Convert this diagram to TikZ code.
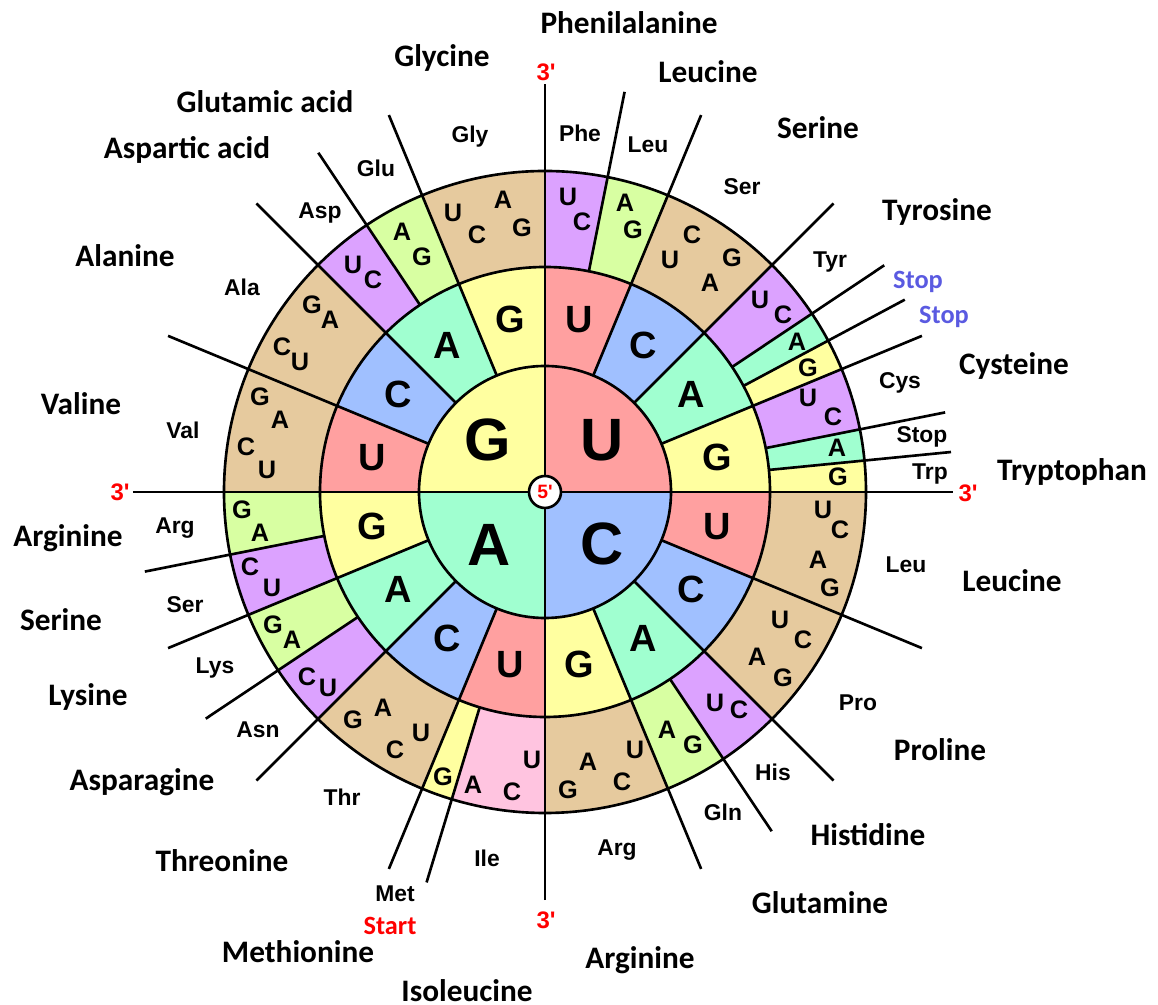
\documentclass[tikz,border=0pt]{standalone}
\usepackage{fontspec}
\setmainfont{Liberation Sans}
\newfontfamily\calibfont{Carlito}
\definecolor{baseU}{RGB}{255,160,160}
\definecolor{baseC}{RGB}{160,192,255}
\definecolor{baseA}{RGB}{160,255,208}
\definecolor{baseG}{RGB}{255,255,160}
\definecolor{fourfold}{RGB}{230,202,158}
\definecolor{pairUC}{RGB}{220,162,255}
\definecolor{pairAG}{RGB}{216,255,162}
\definecolor{ilepink}{RGB}{255,196,224}
\definecolor{stopblue}{RGB}{90,90,225}
\begin{document}
\begin{tikzpicture}[
  line width=0.75pt,
  bigname/.style={font=\calibfont\bfseries\fontsize{8.9}{10}\selectfont},
  shortname/.style={font=\bfseries\fontsize{6.5}{7}\selectfont},
  firstbase/.style={font=\bfseries\fontsize{17}{18}\selectfont},
  secondbase/.style={font=\bfseries\fontsize{10.8}{12}\selectfont},
  thirdbase/.style={font=\bfseries\fontsize{7.2}{8}\selectfont},
  endmark/.style={text=red, font=\bfseries\fontsize{6.8}{7}\selectfont},
  stopname/.style={text=stopblue, font=\calibfont\bfseries\fontsize{7.5}{8}\selectfont}]
\useasboundingbox (-5.45,-5.13) rectangle (6.13,4.92);
% first base
\fill[baseU] (0,0) -- (90:1.26) arc[start angle=90, end angle=0, radius=1.26] -- cycle;
\fill[baseC] (0,0) -- (0:1.26) arc[start angle=0, end angle=-90, radius=1.26] -- cycle;
\fill[baseA] (0,0) -- (-90:1.26) arc[start angle=-90, end angle=-180, radius=1.26] -- cycle;
\fill[baseG] (0,0) -- (180:1.26) arc[start angle=180, end angle=90, radius=1.26] -- cycle;
% second base
\foreach \c/\l [count=\k from 0] in {baseU/U,baseC/C,baseA/A,baseG/G,baseU/U,baseC/C,baseA/A,baseG/G,
  baseU/U,baseC/C,baseA/A,baseG/G,baseU/U,baseC/C,baseA/A,baseG/G}{
  \pgfmathsetmacro\a{90-22.5*\k}
  \pgfmathsetmacro\b{\a-22.5}
  \pgfmathsetmacro\m{\a-11.25}
  \fill[\c] (\a:1.26) arc[start angle=\a, end angle=\b, radius=1.26] -- (\b:2.25)
    arc[start angle=\b, end angle=\a, radius=2.25] -- cycle;
  \node[secondbase] (second\k) at (\m:1.76) {\l};
}
% third base
\foreach \a/\b/\c in {90/78.75/pairUC, 78.75/67.5/pairAG, 67.5/45/fourfold, 45/33.75/pairUC,
  33.75/28.125/baseA, 28.125/22.5/baseG, 22.5/11.25/pairUC, 11.25/5.625/baseA, 5.625/0/baseG,
  0/-45/fourfold, -45/-56.25/pairUC, -56.25/-67.5/pairAG, -67.5/-90/fourfold,
  -90/-106.875/ilepink, -106.875/-112.5/baseG, -112.5/-135/fourfold, -135/-146.25/pairUC,
  -146.25/-157.5/pairAG, -157.5/-168.75/pairUC, -168.75/-180/pairAG, -180/-225/fourfold,
  -225/-236.25/pairUC, -236.25/-247.5/pairAG, -247.5/-270/fourfold}
  \fill[\c] (\a:2.25) arc[start angle=\a, end angle=\b, radius=2.25] -- (\b:3.21)
    arc[start angle=\b, end angle=\a, radius=3.21] -- cycle;
% dividers
\draw (0,-4.08) -- (0,4.08);
\draw (-4.12,0) -- (4.08,0);
\foreach \a in {67.5,45,22.5,-22.5,-45,-67.5,-112.5,-135,-157.5,157.5,135,112.5}
  \draw (\a:1.26) -- (\a:4.08);
\foreach \a in {78.75,33.75,28.125,11.25,5.625,-56.25,-106.875,-146.25,-168.75,123.75}
  \draw (\a:2.25) -- (\a:4.08);
\draw (0,0) circle (1.26) circle (2.25) circle (3.21);
\node[draw, circle, fill=white, inner sep=0pt, minimum size=0.32cm, text=red,
  font=\bfseries\fontsize{5.5}{6}\selectfont] (five) at (0,0) {5\textquotesingle};
\node[firstbase] (firstU) at (0.57,0.52) {U};
\node[firstbase] (firstC) at (0.57,-0.52) {C};
\node[firstbase] (firstA) at (-0.56,-0.53) {A};
\node[firstbase] (firstG) at (-0.57,0.52) {G};
\foreach \x/\y/\l [count=\i] in {0.23/2.95/U, 0.37/2.70/C, 0.80/2.89/A, 0.88/2.62/G,
  1.25/2.32/U, 1.47/2.57/C, 1.65/2.09/A, 1.87/2.34/G,
  2.15/1.92/U, 2.38/1.77/C, 2.52/1.50/A, 2.63/1.24/G,
  2.63/0.94/U, 2.88/0.75/C, 2.92/0.44/A, 2.93/0.15/G,
  2.78/-0.18/U, 2.95/-0.38/C, 2.73/-0.68/A, 2.85/-0.96/G,
  2.35/-1.28/U, 2.58/-1.48/C, 2.12/-1.65/A, 2.38/-1.86/G,
  1.70/-2.11/U, 1.94/-2.18/C, 1.22/-2.38/A, 1.48/-2.53/G,
  0.90/-2.58/U, 0.77/-2.90/C, 0.43/-2.70/A, 0.23/-2.98/G,
  -0.13/-2.68/U, -0.33/-3.00/C, -0.72/-2.93/A, -1.02/-2.85/G,
  -1.24/-2.41/U, -1.50/-2.58/C, -1.62/-2.16/A, -1.92/-2.28/G,
  -2.17/-1.96/U, -2.38/-1.85/C, -2.53/-1.48/A, -2.72/-1.33/G,
  -2.73/-0.96/U, -2.95/-0.75/C, -2.85/-0.41/A, -3.03/-0.18/G,
  -2.78/0.22/U, -2.99/0.45/C, -2.65/0.72/A, -2.85/0.95/G,
  -2.45/1.30/U, -2.63/1.45/C, -2.15/1.72/A, -2.33/1.87/G,
  -1.92/2.27/U, -1.72/2.12/C, -1.43/2.60/A, -1.23/2.35/G,
  -0.92/2.79/U, -0.68/2.57/C, -0.42/2.92/A, -0.23/2.64/G}
  \node[thirdbase] (third\i) at (\x,\y) {\l};
% amino acids
\foreach \x/\y/\t [count=\i] in {0.35/3.59/Phe, 1.03/3.47/Leu, 1.97/3.05/Ser, 2.85/2.30/Tyr,
  3.55/1.09/Cys, 3.77/0.55/Stop, 3.85/0.18/Trp, 3.61/-0.73/Leu, 3.13/-2.11/Pro, 2.28/-2.80/His,
  1.78/-3.20/Gln, 0.72/-3.58/Arg, -0.58/-3.66/Ile, -1.50/-4.02/Met, -2.03/-3.05/Thr,
  -2.87/-2.38/Asn, -3.30/-1.76/Lys, -3.60/-1.13/Ser, -3.70/-0.36/Arg, -3.62/0.62/Val,
  -3.03/2.05/Ala, -2.25/2.79/Asp, -1.69/3.24/Glu, -0.75/3.55/Gly}
  \node[shortname] (short\i) at (\x,\y) {\t};
\foreach \x/\y/\t [count=\i] in {0.84/4.69/Phenilalanine, 1.63/4.20/Leucine, 2.73/3.64/Serine,
  3.92/2.80/Tyrosine, 4.69/1.26/Cysteine, 5.27/0.20/Tryptophan, 4.67/-0.89/Leucine,
  3.95/-2.58/Proline, 3.23/-3.43/Histidine, 2.75/-4.11/Glutamine, 0.95/-4.68/Arginine,
  -0.78/-4.99/Isoleucine, -2.47/-4.60/Methionine, -3.23/-3.69/Threonine, -4.03/-2.90/Asparagine,
  -4.57/-2.05/Lysine, -4.84/-1.28/Serine, -4.77/-0.46/Arginine, -4.64/0.88/Valine,
  -4.20/2.36/Alanine, -3.58/3.42/Aspartic acid, -2.80/3.90/Glutamic acid, -1.03/4.34/Glycine}
  \node[bigname] (long\i) at (\x,\y) {\t};
\node[stopname] (stopA) at (3.73,2.10) {Stop};
\node[stopname] (stopG) at (3.99,1.75) {Stop};
\node[stopname, text=red] (start) at (-1.55,-4.34) {Start};
\node[endmark] (endtop) at (0.01,4.20) {3\textquotesingle};
\node[endmark] (endbottom) at (0.01,-4.28) {3\textquotesingle};
\node[endmark] (endleft) at (-4.25,0) {3\textquotesingle};
\node[endmark] (endright) at (4.23,-0.01) {3\textquotesingle};
\end{tikzpicture}
\end{document}
